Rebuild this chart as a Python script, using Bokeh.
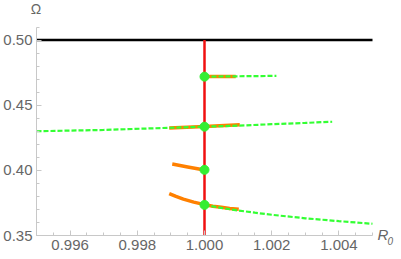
from bokeh.plotting import figure
from bokeh.models import FixedTicker, Label, Range1d, CustomJSTickFormatter
from bokeh.embed import file_html
from bokeh.resources import INLINE

# ---- data ----
x_axis = (0.995, 1.005)
y_axis = (0.35, 0.51)

x_major = [0.996, 0.998, 1.000, 1.002, 1.004]
x_minor = [round(0.995 + 0.0005 * i, 4) for i in range(21)]
y_major = [0.35, 0.40, 0.45, 0.50]
y_minor = [round(0.35 + 0.01 * i, 2) for i in range(17)]

black_x = [0.995, 1.005]
black_y = [0.5, 0.5]

red_x = [1.0, 1.0]
red_y = [0.35, 0.5]

# orange branches
or1_x = [1.0, 1.00093]
or1_y = [0.4720, 0.4721]
or2_x = [0.99895, 1.0, 1.00105]
or2_y = [0.4325, 0.4336, 0.4350]
or3_x = [0.99904, 0.99950, 1.0]
or3_y = [0.4048, 0.4026, 0.4002]
or4_x = [0.99895, 0.99915, 0.99937, 0.99968, 1.0, 1.00025, 1.0005, 1.00075, 1.00102]
or4_y = [0.3822, 0.3800, 0.3779, 0.3756, 0.3737, 0.3725, 0.3716, 0.3708, 0.3702]

# green dashed branches
gd1_x = [1.0, 1.00214]
gd1_y = [0.4719, 0.4725]
gd2_x = [0.995, 0.997, 0.999, 1.000, 1.001, 1.002, 1.003, 1.0038]
gd2_y = [0.4300, 0.4310, 0.4327, 0.4335, 0.4343, 0.4354, 0.4364, 0.4373]
gd3_x = [1.0, 1.0005, 1.001, 1.0015, 1.002, 1.003, 1.004, 1.005]
gd3_y = [0.3735, 0.3712, 0.3692, 0.3675, 0.3659, 0.3632, 0.3610, 0.3590]

# green points
pt_x = [1.0, 1.0, 1.0, 1.0]
pt_y = [0.4719, 0.4335, 0.4004, 0.3735]

# ---- layout (pixels) ----
W, H = 401, 259
AX_L, AX_R, AX_T, AX_B = 36, 372, 26.5, 235   # pixel extent of the axes box

dx = (x_axis[1] - x_axis[0]) / (AX_R - AX_L)
dy = (y_axis[1] - y_axis[0]) / (AX_B - AX_T)
xr = Range1d(x_axis[0] - AX_L * dx, x_axis[1] + (W - AX_R) * dx)
yr = Range1d(y_axis[0] - (H - AX_B) * dy, y_axis[1] + AX_T * dy)

AXIS_GRAY = "#c8c8c8"
LABEL_GRAY = "#666666"
ORANGE = "#ff8000"
GREEN = "#33ff33"
GREEN_PT = "#33ee33"
RED = "#f01010"

p = figure(width=W, height=H, output_backend="svg", toolbar_location=None,
           x_range=xr, y_range=yr,
           min_border_left=0, min_border_right=0, min_border_top=0,
           min_border_bottom=0)
p.outline_line_color = None
p.xgrid.visible = False
p.ygrid.visible = False
p.background_fill_color = "white"
p.border_fill_color = "white"

xa = p.xaxis[0]
ya = p.yaxis[0]
xa.fixed_location = y_axis[0]
ya.fixed_location = x_axis[0]
xa.bounds = x_axis
ya.bounds = y_axis

for ax, major, minor in ((xa, x_major, x_minor), (ya, y_major, y_minor)):
    ax.ticker = FixedTicker(ticks=major, minor_ticks=minor)
    ax.axis_line_color = AXIS_GRAY
    ax.axis_line_width = 1
    ax.major_tick_line_color = AXIS_GRAY
    ax.minor_tick_line_color = AXIS_GRAY
    ax.major_tick_in = 5
    ax.major_tick_out = 0
    ax.minor_tick_in = 3
    ax.minor_tick_out = 0
    ax.major_label_text_color = LABEL_GRAY
    ax.major_label_text_font = "Liberation Sans"
    ax.major_label_text_font_size = "15px"
    ax.major_label_standoff = 4

xa.formatter = CustomJSTickFormatter(code="return tick.toFixed(3);")
ya.formatter = CustomJSTickFormatter(code="return tick.toFixed(2);")

p.line(black_x, black_y, line_color="black", line_width=2.6)

for xs, ys in ((or1_x, or1_y), (or2_x, or2_y), (or3_x, or3_y), (or4_x, or4_y)):
    p.line(xs, ys, line_color=ORANGE, line_width=3.5, line_cap="butt", line_join="round")

for xs, ys in ((gd1_x, gd1_y), (gd2_x, gd2_y), (gd3_x, gd3_y)):
    p.line(xs, ys, line_color=GREEN, line_width=2.2, line_dash="5 2")

p.line(red_x, red_y, line_color=RED, line_width=2.5)

p.scatter(pt_x, pt_y, size=9, fill_color=GREEN_PT, line_color=GREEN_PT)

p.add_layout(Label(x=x_axis[0], y=y_axis[1], text="Ω", text_align="center",
                   text_baseline="bottom", y_offset=10, x_offset=-0.5,
                   text_font="Liberation Sans", text_font_size="14px",
                   text_color=LABEL_GRAY))
p.add_layout(Label(x=x_axis[1], y=y_axis[0], text="R", text_align="left",
                   text_baseline="middle", x_offset=5, y_offset=1,
                   text_font="Liberation Sans", text_font_style="italic",
                   text_font_size="15px", text_color=LABEL_GRAY))
p.add_layout(Label(x=x_axis[1], y=y_axis[0], text="0", text_align="left",
                   text_baseline="middle", x_offset=15, y_offset=-5,
                   text_font="Liberation Sans", text_font_style="italic",
                   text_font_size="10px", text_color=LABEL_GRAY))

open("out.html", "w").write(file_html(p, INLINE))
